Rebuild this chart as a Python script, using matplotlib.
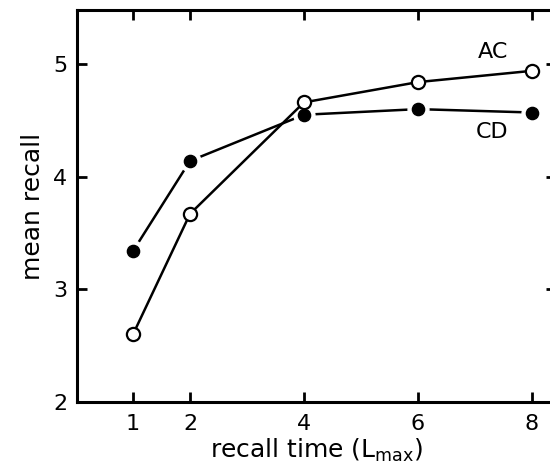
import matplotlib
matplotlib.use('Agg')
import matplotlib.pyplot as plt

recall_time = [1, 2, 4, 6, 8]
ac_recall = [2.60, 3.67, 4.66, 4.84, 4.94]
cd_recall = [3.34, 4.14, 4.55, 4.60, 4.57]

x_ticks = [1, 2, 4, 6, 8]
y_ticks = [2, 3, 4, 5]

plt.rcParams['font.family'] = ['DejaVu Sans']

fig = plt.figure(figsize=(5.5, 4.73), dpi=100)
ax = fig.add_axes([77 / 550, 1 - 402 / 473, (556 - 77) / 550, (402 - 10) / 473])
px = 1 / 57.0  # data units per pixel on x

# CD: line broken near the filled markers (white halo under markers)
ax.plot(recall_time, cd_recall, color='black', lw=1.8, zorder=2)
ax.plot(recall_time, cd_recall, 'o', ms=15, color='white', zorder=3)
ax.plot(recall_time, cd_recall, 'o', ms=8.8, color='black', zorder=4)

# AC: open circles, continuous line
ax.plot(recall_time, ac_recall, color='black', lw=1.8, zorder=5,
        marker='o', ms=9.5, mfc='white', mec='black', mew=1.6)

ax.text(7.05, 5.11, 'AC', fontsize=16, ha='left', va='center')
ax.text(7.02, 4.40, 'CD', fontsize=16, ha='left', va='center')

ax.set_xlim(1 - 56 * px, 1 + 423 * px)
ax.set_ylim(2, 5.48)
ax.set_xticks(x_ticks)
ax.set_yticks(y_ticks)
ax.tick_params(direction='in', length=7, width=2, labelsize=16,
               top=True, right=True)
ax.tick_params(axis='x', pad=9)
ax.tick_params(axis='y', pad=7)
for sp in ax.spines.values():
    sp.set_linewidth(2.2)

ax.set_xlabel('recall time (L$_{\\mathrm{max}}$)', fontsize=18, labelpad=2)
ax.set_ylabel('mean recall', fontsize=18, labelpad=6)

fig.savefig('out.png', dpi=100)
